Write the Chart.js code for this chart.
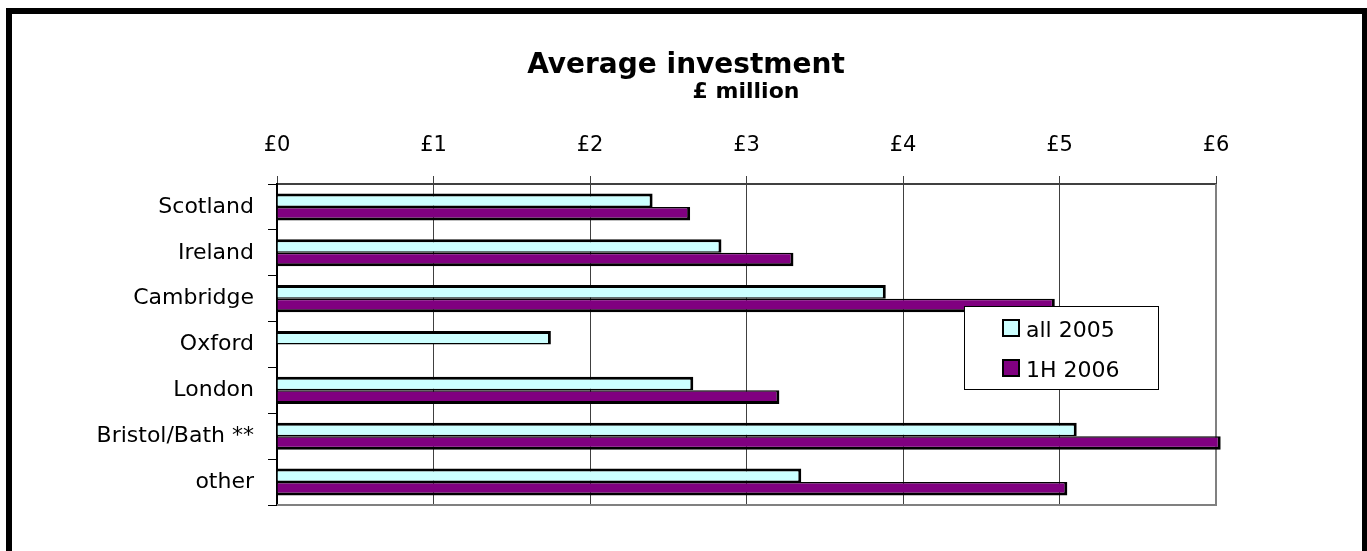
<!DOCTYPE html>
<html>
<head>
<meta charset="utf-8">
<script src="https://cdn.jsdelivr.net/npm/chart.js@4/dist/chart.umd.min.js"></script>
<style>
  html, body { margin: 0; padding: 0; background: #fff; overflow: hidden; width: 1367px; height: 551px; }
  #frame { position: absolute; left: 6px; top: 8px; width: 1362px; height: 620px; border: 6px solid #000; box-sizing: border-box; z-index: 0; }
  #c { position: absolute; left: 0; top: 0; z-index: 1; }
</style>
</head>
<body>
<div id="frame"></div>
<canvas id="c" width="1367" height="551"></canvas>
<script>
const titleText = 'Average investment';
const subtitleText = '£ million';
const categories = ['Scotland', 'Ireland', 'Cambridge', 'Oxford', 'London', 'Bristol/Bath **', 'other'];
const seriesNames = ['all 2005', '1H 2006'];
const all2005 = [2.40, 2.84, 3.89, 1.75, 2.66, 5.11, 3.35];
const h2006 = [2.64, 3.30, 4.97, null, 3.21, 6.03, 5.05];
const xTickValues = [0, 1, 2, 3, 4, 5, 6];
const xTickPrefix = '£';

const FONT = 'DejaVu Sans';

const plotBorder = {
  id: 'plotBorder',
  beforeDatasetsDraw(chart) {
    const a = chart.chartArea, ctx = chart.ctx;
    ctx.save();
    ctx.strokeStyle = '#808080';
    ctx.lineWidth = 2;
    ctx.beginPath();
    ctx.moveTo(a.right, a.top);
    ctx.lineTo(a.right, a.bottom);
    ctx.lineTo(a.left, a.bottom);
    ctx.stroke();
    ctx.restore();
  }
};

const titles = {
  id: 'titles',
  afterDraw(chart) {
    const ctx = chart.ctx;
    ctx.save();
    ctx.fillStyle = '#000';
    ctx.textAlign = 'center';
    ctx.textBaseline = 'alphabetic';
    ctx.font = 'bold 28px "' + FONT + '"';
    ctx.fillText(titleText, 686, 73);
    ctx.font = 'bold 22px "' + FONT + '"';
    ctx.fillText(subtitleText, 746, 98);
    ctx.restore();
  }
};

const boxLegend = {
  id: 'boxLegend',
  afterDraw(chart) {
    const ctx = chart.ctx;
    const x0 = 964.5, y0 = 306.5, w = 194, h = 83;
    ctx.save();
    ctx.fillStyle = '#fff';
    ctx.fillRect(x0, y0, w, h);
    ctx.strokeStyle = '#000';
    ctx.lineWidth = 1;
    ctx.strokeRect(x0, y0, w, h);
    ctx.font = '22px "' + FONT + '"';
    ctx.textBaseline = 'alphabetic';
    ctx.textAlign = 'left';
    chart.data.datasets.forEach((ds, i) => {
      const my = 320 + i * 40;
      ctx.fillStyle = ds.backgroundColor;
      ctx.fillRect(1003, my, 16, 16);
      ctx.strokeStyle = '#000';
      ctx.lineWidth = 2;
      ctx.strokeRect(1003, my, 16, 16);
      ctx.fillStyle = '#000';
      ctx.fillText(ds.label, 1026, 337 + i * 40);
    });
    ctx.restore();
  }
};

new Chart(document.getElementById('c'), {
  type: 'bar',
  data: {
    labels: categories,
    datasets: [
      {
        label: seriesNames[0],
        data: all2005,
        backgroundColor: '#CCFFFF',
        borderColor: '#000',
        borderWidth: { top: 3, right: 3, bottom: 1.5, left: 0 },
        borderSkipped: false,
        clip: false
      },
      {
        label: seriesNames[1],
        data: h2006,
        backgroundColor: '#800080',
        borderColor: '#000',
        borderWidth: { top: 1.5, right: 3, bottom: 3, left: 0 },
        borderSkipped: false,
        clip: false
      }
    ]
  },
  options: {
    indexAxis: 'y',
    responsive: false,
    animation: false,
    devicePixelRatio: 1,
    layout: { padding: { left: 0, top: 0, right: 151, bottom: 46 } },
    datasets: { bar: { categoryPercentage: 0.59, barPercentage: 1.0 } },
    plugins: {
      legend: { display: false },
      tooltip: { enabled: false },
      title: { display: false }
    },
    scales: {
      x: {
        position: 'top',
        min: 0,
        max: 6,
        afterBuildTicks(scale) { scale.ticks = xTickValues.map(v => ({ value: v })); },
        afterFit(scale) { scale.height = 184; },
        ticks: {
          callback: v => xTickPrefix + v,
          font: { family: FONT, size: 21 },
          color: '#000',
          padding: 18,
          maxRotation: 0
        },
        grid: { color: '#404040', lineWidth: 1, tickLength: 8, drawTicks: true },
        border: { color: '#404040', width: 2 }
      },
      y: {
        afterFit(scale) { scale.width = 277; },
        ticks: {
          font: { family: FONT, size: 22 },
          color: '#000',
          padding: 14
        },
        grid: { offset: true, drawOnChartArea: false, tickLength: 9, color: '#000', lineWidth: 1 },
        border: { color: '#000', width: 2 }
      }
    }
  },
  plugins: [plotBorder, titles, boxLegend]
});
</script>
</body>
</html>
